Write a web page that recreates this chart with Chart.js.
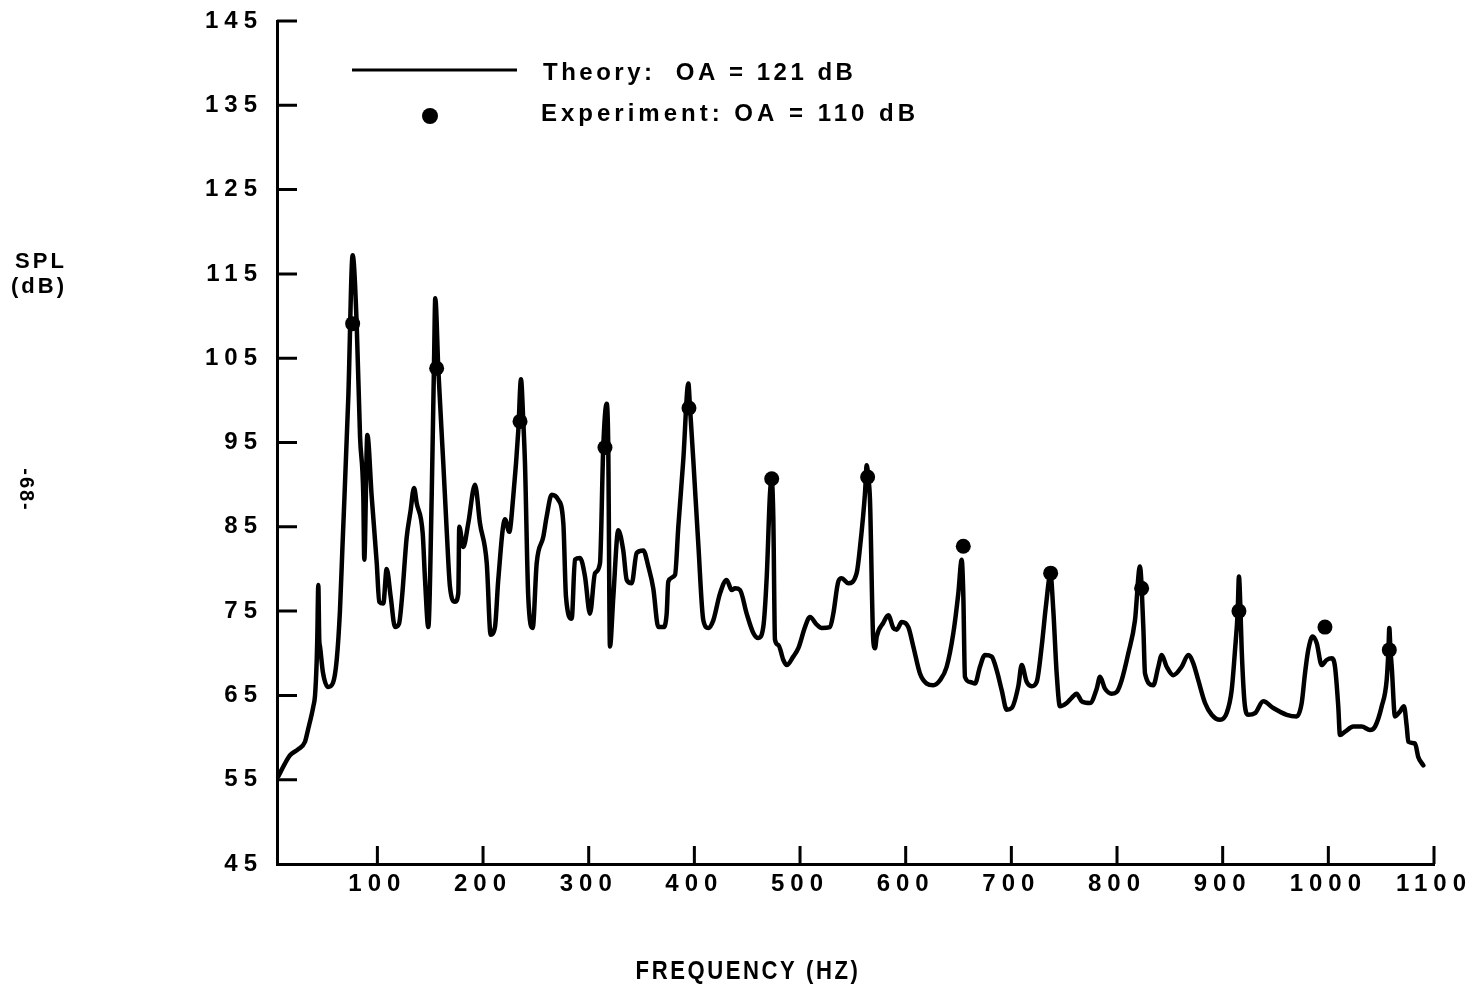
<!DOCTYPE html>
<html>
<head>
<meta charset="utf-8">
<script src="https://cdn.jsdelivr.net/npm/chart.js@4"></script>
<style>
html,body{margin:0;padding:0;background:#fff;overflow:hidden}
canvas{display:block}
</style>
</head>
<body>
<canvas id="c" width="1478" height="992"></canvas>
<script>
// ---------- data ----------
const theoryFreq = [6.2,14.2,17.3,24.9,31.5,34.3,39.4,41.0,42.6,43.1,44.1,45.0,45.7,48.5,53.3,58.0,61.5,64.6,67.0,72.5,
76.6,80.4,83.6,86.7,87.6,90.5,94.6,99.4,101.8,105.6,108.8,112.6,116.7,120.5,123.3,127.7,131.3,134.7,137.2,142.9,
145.1,148.2,151.4,153.6,154.8,157.7,162.4,165.6,168.7,173.5,176.6,177.5,181.3,186.0,192.4,197.1,203.5,207.2,211.3,214.4,
220.8,224.8,228.6,233.4,235.9,238.1,239.7,242.8,247.0,250.8,257.0,260.2,265.0,271.2,276.0,278.5,283.9,287.0,291.8,296.5,
301.2,306.0,310.7,313.8,317.0,318.5,320.1,323.3,328.0,332.7,336.0,340.7,345.4,351.7,356.4,361.1,365.9,370.6,373.8,375.3,
381.7,384.8,389.5,394.3,395.9,399.0,403.7,408.5,413.2,417.9,424.3,430.6,435.3,438.5,443.2,449.5,455.8,460.5,465.2,468.5,
471.6,473.2,474.7,476.3,479.4,484.2,487.4,493.6,498.4,504.7,509.4,515.8,520.5,528.4,531.5,536.2,539.4,545.7,553.6,556.8,
561.5,563.1,564.6,566.2,569.3,571.0,572.6,578.8,583.5,588.3,591.5,596.2,602.5,607.2,613.5,619.9,626.1,632.5,638.8,645.1,
649.8,653.0,654.5,656.1,660.9,665.6,670.3,675.1,681.4,686.1,690.9,695.6,700.3,706.6,709.8,714.5,719.3,724.0,728.7,732.8,
737.0,739.7,742.9,746.0,752.4,757.1,761.8,766.6,774.4,780.8,783.9,788.6,795.0,799.7,804.4,810.7,817.0,821.7,824.9,826.5,
834.3,839.1,842.3,847.0,853.3,861.2,867.5,872.2,876.9,883.3,889.6,897.5,903.8,908.5,911.7,914.2,915.4,916.9,918.0,921.1,
924.2,930.6,938.4,947.9,960.6,970.0,974.8,977.9,981.0,985.2,989.0,993.7,998.4,1003.2,1006.3,1009.4,1011.0,1015.8,1023.6,1031.6,
1039.4,1044.2,1050.5,1055.2,1056.9,1057.7,1058.8,1060.0,1063.1,1067.8,1071.6,1074.2,1075.7,1082.0,1085.1,1089.9];

const theorySpl = [55.4,57.3,57.9,58.6,59.5,60.9,63.7,65.0,69.2,71.6,78.1,71.6,70.8,67.7,66.0,66.5,69.2,75.1,82.8,100.4,
117.2,109.1,95.7,88.6,81.1,95.9,88.6,80.7,76.1,75.9,80.0,76.7,73.1,73.5,76.6,83.7,86.8,89.6,87.8,84.2,
78.7,73.1,88.6,104.4,112.1,103.6,92.5,84.6,77.9,76.1,77.1,85.0,82.6,85.4,90.0,85.4,80.7,72.2,73.1,78.7,
85.9,84.4,88.6,96.5,102.5,97.5,92.5,76.7,73.0,80.7,83.8,86.2,88.8,88.2,85.4,76.7,74.1,81.1,81.3,79.1,
74.7,79.5,80.7,94.5,99.6,94.5,70.8,76.7,84.6,82.2,78.7,78.3,81.9,82.2,80.3,77.7,73.1,73.1,74.7,78.5,
79.3,85.0,92.9,102.0,99.1,92.9,83.0,73.9,73.0,73.9,77.1,78.7,77.5,77.7,77.5,74.7,72.4,71.8,73.1,79.1,
89.0,90.5,86.2,71.6,71.0,69.2,68.6,69.6,70.6,73.1,74.3,73.4,73.0,73.1,74.7,78.5,78.9,78.3,79.5,82.6,
89.0,92.3,90.9,88.2,71.6,70.6,72.0,73.6,74.5,73.0,72.8,73.7,73.1,70.8,67.6,66.4,66.2,66.8,68.4,72.4,
77.1,81.1,77.1,67.2,66.6,66.4,68.4,69.8,69.6,68.0,65.6,63.3,63.5,66.1,68.6,66.6,66.1,66.6,70.8,75.7,
79.4,75.1,67.6,63.7,64.1,64.7,65.2,64.3,64.1,65.8,67.2,65.8,65.2,65.4,66.8,70.0,73.9,80.3,73.1,67.6,
66.2,68.4,69.8,68.4,67.4,68.4,69.8,68.8,66.8,64.1,62.7,62.1,62.9,65.6,70.4,74.9,79.1,74.9,70.4,63.7,
62.7,62.9,64.3,63.5,62.7,62.5,64.1,67.6,70.4,72.0,71.2,68.6,69.2,69.4,68.4,63.7,60.3,60.7,61.3,61.3,
60.9,61.3,63.7,66.8,70.4,73.0,70.4,68.4,62.5,63.1,63.7,61.3,59.5,59.3,57.7,56.7];

const expFreq = [76.6,156.1,235.0,315.4,394.9,473.2,564.0,654.5,737.2,823.3,915.4,996.8,1057.7];
const expSpl  = [109.1,103.8,97.5,94.4,99.1,90.7,90.9,82.7,79.5,77.7,75.0,73.1,70.4];

const xTickValues = [100,200,300,400,500,600,700,800,900,1000,1100];
const yTickValues = [45,55,65,75,85,95,105,115,125,135,145];

const legendLabels = ['Theory:  OA = 121 dB', 'Experiment: OA = 110 dB'];
const xTitle = 'FREQUENCY (HZ)';
const yTitleLines = ['SPL', '(dB)'];
const pageNumber = '-68-';

// ---------- drawing ----------
const ink = '#000';
const decor = {
  id: 'decor',
  beforeDraw(chart) {
    chart.ctx.letterSpacing = '6px';
  },
  beforeDatasetsDraw(chart) {
    const ctx = chart.ctx;
    ctx.letterSpacing = '0px';
    const {left, bottom} = chart.chartArea;
    const xs = chart.scales.x, ys = chart.scales.y;
    ctx.save();
    ctx.strokeStyle = ink;
    ctx.lineWidth = 3;
    ctx.beginPath();
    yTickValues.forEach(v => {
      if (v === ys.min) return;
      const p = ys.getPixelForValue(v);
      ctx.moveTo(left, p); ctx.lineTo(left + 20, p);
    });
    xTickValues.forEach(v => {
      const p = xs.getPixelForValue(v);
      ctx.moveTo(p, bottom); ctx.lineTo(p, bottom - 18);
    });
    ctx.stroke();
    ctx.restore();
  },
  afterDraw(chart) {
    const ctx = chart.ctx;
    ctx.save();
    ctx.fillStyle = ink;
    ctx.strokeStyle = ink;
    // legend
    ctx.lineWidth = 3;
    ctx.beginPath(); ctx.moveTo(352, 70); ctx.lineTo(517, 70); ctx.stroke();
    ctx.beginPath(); ctx.arc(430, 116, 8, 0, Math.PI * 2); ctx.fill();
    ctx.font = "bold 24px 'Liberation Sans'";
    ctx.textBaseline = 'middle';
    ctx.textAlign = 'left';
    ctx.letterSpacing = '3.5px';
    ctx.fillText(legendLabels[0], 543, 73);
    ctx.letterSpacing = '4px';
    ctx.fillText(legendLabels[1], 541, 114);
    // y title
    ctx.textAlign = 'center';
    ctx.letterSpacing = '3px';
    ctx.font = "bold 22px 'Liberation Sans'";
    ctx.fillText(yTitleLines[0], 41, 262);
    ctx.fillText(yTitleLines[1], 39, 287);
    // x title (condensed lettering)
    ctx.save();
    ctx.translate(748, 972);
    ctx.scale(0.85, 1);
    ctx.font = "bold 26px 'Liberation Sans'";
    ctx.letterSpacing = '3px';
    ctx.fillText(xTitle, 0, 0);
    ctx.restore();
    // page number (rotated)
    ctx.save();
    ctx.translate(26, 490);
    ctx.rotate(Math.PI / 2);
    ctx.font = "bold 20px 'Liberation Sans'";
    ctx.letterSpacing = '2px';
    ctx.fillText(pageNumber, 0, 0);
    ctx.restore();
    ctx.restore();
  }
};

new Chart(document.getElementById('c'), {
  type: 'scatter',
  data: {
    datasets: [
      {
        label: 'Theory',
        data: theoryFreq.map((f, i) => ({x: f, y: theorySpl[i]})),
        showLine: true,
        borderColor: ink,
        backgroundColor: ink,
        borderWidth: 4.5,
        pointRadius: 0,
        fill: false,
        cubicInterpolationMode: 'monotone',
        borderJoinStyle: 'round',
        borderCapStyle: 'round'
      },
      {
        label: 'Experiment',
        data: expFreq.map((f, i) => ({x: f, y: expSpl[i]})),
        showLine: false,
        pointRadius: 7.5,
        pointBackgroundColor: ink,
        pointBorderColor: ink,
        pointBorderWidth: 0
      }
    ]
  },
  options: {
    responsive: false,
    animation: false,
    devicePixelRatio: 1,
    layout: {padding: {left: 0, right: 44, top: 21, bottom: 0}},
    plugins: {legend: {display: false}, tooltip: {enabled: false}, title: {display: false}},
    scales: {
      x: {
        type: 'linear', min: 5, max: 1100,
        afterBuildTicks: s => { s.ticks = xTickValues.map(v => ({value: v})); },
        afterFit: s => { s.height = 128; s.paddingLeft = 0; s.paddingRight = 0; },
        grid: {display: false, drawTicks: false},
        border: {display: true, color: ink, width: 3},
        ticks: {color: ink, padding: 6, autoSkip: false, maxRotation: 0,
                callback: v => String(v),
                font: {family: "'Liberation Sans', sans-serif", weight: 'bold', size: 24}}
      },
      y: {
        type: 'linear', min: 45, max: 145,
        afterBuildTicks: s => { s.ticks = yTickValues.map(v => ({value: v})); },
        afterFit: s => { s.width = 277; s.paddingTop = 0; s.paddingBottom = 0; },
        grid: {display: false, drawTicks: false},
        border: {display: true, color: ink, width: 3},
        ticks: {color: ink, padding: 14, callback: v => String(v),
                font: {family: "'Liberation Sans', sans-serif", weight: 'bold', size: 24}}
      }
    }
  },
  plugins: [decor]
});
</script>
</body>
</html>
